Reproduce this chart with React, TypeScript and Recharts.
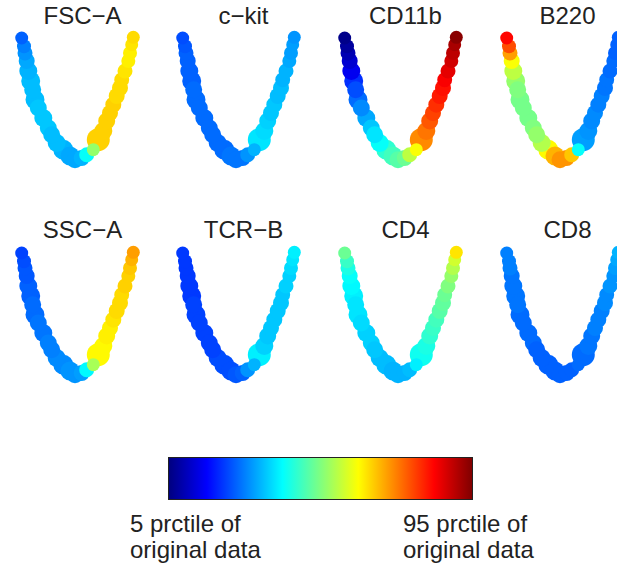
import { Scatter, ScatterChart, XAxis, YAxis, ZAxis } from "recharts";

// cluster centres of the embedding (same for every panel), index 0 = top of left arm
const embX = [
  6.7, 9, 10, 11.7, 13.3, 15.7, 17.7, 20, 23.3, 28.3, 33.3, 36.7, 41.7, 48.3, 55, 60, 66.7,
  71.7, 78.3, 83.3, 88.3, 91.7, 95, 98.3, 101.7, 105, 106.7, 110, 113.3, 115, 116.7, 118.3,
];
const embY = [
  132, 123.7, 117, 109, 99, 89, 80.3, 70.3, 62, 52, 42, 35.3, 27, 20.3, 14, 10.3, 12,
  15.3, 20.3, 30.3, 39, 49, 57, 65.3, 74, 82, 90.3, 99, 109, 117, 125.3, 132.7,
];
const cellCounts = [
  42, 49, 56, 64, 81, 90, 72, 90, 72, 81, 72, 72, 81, 100, 90, 72, 64,
  56, 42, 132, 81, 72, 64, 64, 64, 64, 56, 56, 49, 49, 42, 42,
];

const markers = ["FSC−A", "c−kit", "CD11b", "B220", "SSC−A", "TCR−B", "CD4", "CD8"];

// scaled expression (0 = 5th prctile, 1 = 95th prctile)
const fscA = [0.22, 0.25, 0.27, 0.29, 0.3, 0.31, 0.31, 0.31, 0.32, 0.32, 0.32, 0.31, 0.31, 0.3, 0.29, 0.29, 0.3, 0.38, 0.52, 0.67, 0.67, 0.67, 0.67, 0.67, 0.66, 0.66, 0.66, 0.65, 0.64, 0.64, 0.65, 0.66];
const cKit = [0.2, 0.21, 0.22, 0.22, 0.22, 0.22, 0.23, 0.23, 0.23, 0.23, 0.23, 0.23, 0.23, 0.23, 0.24, 0.24, 0.24, 0.27, 0.3, 0.35, 0.34, 0.33, 0.32, 0.32, 0.31, 0.31, 0.3, 0.3, 0.29, 0.28, 0.28, 0.27];
const cd11b = [0.01, 0.03, 0.05, 0.08, 0.11, 0.17, 0.2, 0.23, 0.26, 0.29, 0.32, 0.35, 0.38, 0.42, 0.44, 0.46, 0.48, 0.56, 0.62, 0.74, 0.76, 0.79, 0.81, 0.83, 0.85, 0.86, 0.88, 0.9, 0.92, 0.94, 0.96, 0.99];
const b220 = [0.87, 0.8, 0.72, 0.62, 0.56, 0.52, 0.5, 0.49, 0.49, 0.49, 0.5, 0.52, 0.55, 0.63, 0.7, 0.73, 0.73, 0.68, 0.38, 0.28, 0.27, 0.26, 0.26, 0.25, 0.25, 0.24, 0.24, 0.23, 0.23, 0.22, 0.22, 0.22];
const sscA = [0.19, 0.2, 0.21, 0.21, 0.22, 0.22, 0.23, 0.23, 0.24, 0.24, 0.25, 0.25, 0.26, 0.26, 0.27, 0.27, 0.28, 0.37, 0.54, 0.63, 0.63, 0.64, 0.64, 0.65, 0.66, 0.66, 0.66, 0.67, 0.67, 0.68, 0.7, 0.72];
const tcrB = [0.18, 0.18, 0.18, 0.18, 0.18, 0.18, 0.19, 0.19, 0.19, 0.19, 0.19, 0.19, 0.2, 0.2, 0.2, 0.21, 0.22, 0.27, 0.3, 0.36, 0.33, 0.32, 0.32, 0.32, 0.32, 0.32, 0.32, 0.33, 0.33, 0.34, 0.35, 0.36];
const cd4 = [0.48, 0.43, 0.4, 0.38, 0.37, 0.36, 0.35, 0.35, 0.34, 0.33, 0.33, 0.32, 0.31, 0.31, 0.3, 0.3, 0.3, 0.31, 0.36, 0.39, 0.4, 0.42, 0.43, 0.44, 0.46, 0.47, 0.48, 0.5, 0.52, 0.55, 0.58, 0.65];
const cd8 = [0.25, 0.25, 0.25, 0.24, 0.24, 0.24, 0.24, 0.23, 0.23, 0.23, 0.23, 0.22, 0.22, 0.22, 0.22, 0.22, 0.22, 0.22, 0.23, 0.23, 0.24, 0.24, 0.25, 0.25, 0.25, 0.26, 0.26, 0.27, 0.27, 0.28, 0.29, 0.3];

const markerLevels = [fscA, cKit, cd11b, b220, sscA, tcrB, cd4, cd8];

const jetStops = [0, 0.125, 0.375, 0.625, 0.875, 1];

function jet(v: number) {
  const c = (x: number) => Math.round(255 * Math.max(0, Math.min(1, x)));
  const r = c(1.5 - Math.abs(4 * v - 3));
  const g = c(1.5 - Math.abs(4 * v - 2));
  const b = c(1.5 - Math.abs(4 * v - 1));
  return `rgb(${r},${g},${b})`;
}

const colLeft = [15, 176, 338, 500];
const rowTop = [28, 243];

function Panel({ levels }: { levels: number[] }) {
  const rows = embX
    .map((x, i) => ({ x, y: embY[i], n: cellCounts[i], color: jet(levels[i]) }))
    .sort((a, b) => b.n - a.n);
  return (
    <ScatterChart width={130} height={142} margin={{ top: 0, right: 0, bottom: 0, left: 0 }}>
      <XAxis type="number" dataKey="x" domain={[0, 130]} hide />
      <YAxis type="number" dataKey="y" domain={[0, 142]} hide />
      <ZAxis type="number" dataKey="n" domain={[0, 144]} range={[0, 452]} />
      <Scatter
        data={rows}
        isAnimationActive={false}
        shape={(p: any) => (
          <circle cx={p.cx} cy={p.cy} r={Math.sqrt((p.size ?? 50) / Math.PI)} fill={p.payload.color} />
        )}
      />
    </ScatterChart>
  );
}

export default function App() {
  const font = "'Liberation Sans', Arial, sans-serif";
  return (
    <div style={{ position: "absolute", left: 0, top: 0, width: 617, height: 569, overflow: "hidden", background: "#fff" }}>
      {markers.map((m, k) => (
        <div key={m} style={{ position: "absolute", left: colLeft[k % 4], top: rowTop[Math.floor(k / 4)] }}>
          <Panel levels={markerLevels[k]} />
        </div>
      ))}
      <div
        style={{
          position: "absolute",
          left: 168,
          top: 457,
          width: 303,
          height: 41,
          border: "1px solid #222",
          background: `linear-gradient(to right, ${jetStops.map((s) => `${jet(s)} ${s * 100}%`).join(", ")})`,
        }}
      />
      <svg width={617} height={569} style={{ position: "absolute", left: 0, top: 0 }} fontFamily={font} fill="#222">
        {markers.map((m, k) => (
          <text key={m} x={colLeft[k % 4] + 67.5} y={24 + 214 * Math.floor(k / 4)} fontSize={24} textAnchor="middle">
            {m}
          </text>
        ))}
        <text x={130} y={532} fontSize={24}>5 prctile of</text>
        <text x={130} y={558} fontSize={24}>original data</text>
        <text x={403} y={532} fontSize={24}>95 prctile of</text>
        <text x={403} y={558} fontSize={24}>original data</text>
      </svg>
    </div>
  );
}
